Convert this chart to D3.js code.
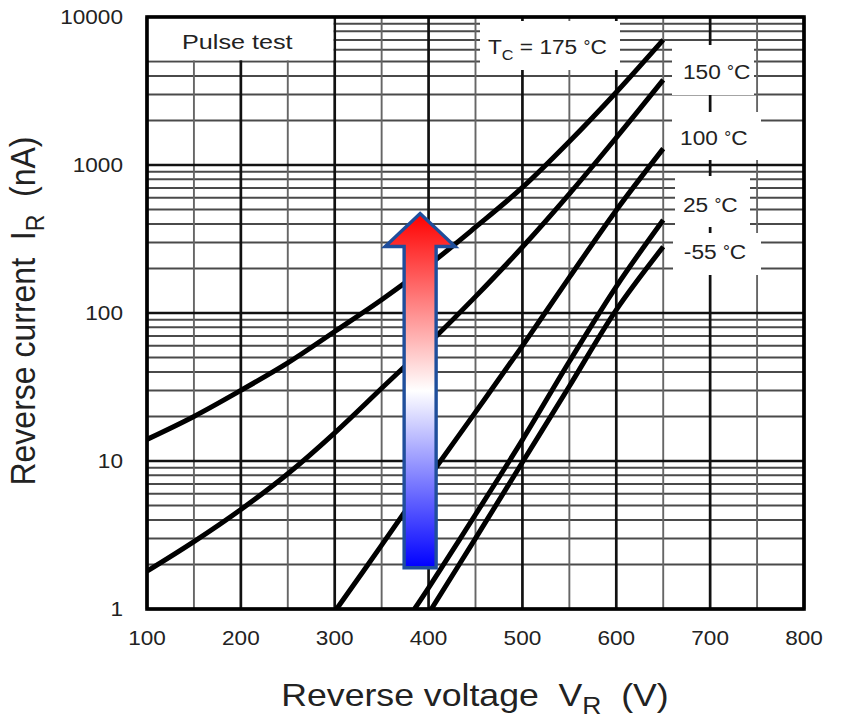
<!DOCTYPE html>
<html>
<head>
<meta charset="utf-8">
<script src="https://cdn.jsdelivr.net/npm/d3@7/dist/d3.min.js"></script>
<style>
  body { margin: 0; background: #fff; }
  text { font-family: Arial, "Liberation Sans", sans-serif; fill: #222; }
</style>
</head>
<body>
<div id="chart"></div>
<script>
// ---- data ----
var xTicks = [100, 200, 300, 400, 500, 600, 700, 800];
var yTicks = [1, 10, 100, 1000, 10000];

var v175 = [100, 150, 200, 250, 300, 350, 400, 450, 500, 550, 600, 650];
var i175 = [14, 20, 30, 46, 75, 123, 210, 380, 705, 1440, 3100, 7000];

var v150 = [100, 150, 200, 250, 300, 350, 400, 450, 500, 550, 600, 650];
var i150 = [1.8, 2.85, 4.7, 8.2, 15.5, 31, 62, 129, 279, 638, 1530, 3760];

var v100 = [302, 350, 400, 450, 500, 550, 600, 650];
var i100 = [1, 2.7, 7.7, 21.4, 60, 174, 495, 1290];

var v25 = [385, 400, 450, 500, 550, 600, 650];
var i25 = [1, 1.39, 4.35, 13.9, 47, 151, 425];

var vm55 = [403, 450, 500, 550, 600, 650];
var im55 = [1, 3, 9.8, 32, 105, 280];

// temperature labels: [text, V at text start, nA at baseline]
var labels = [
  ["150", 671, 3830],
  ["100", 668, 1365],
  ["25", 671, 481],
  ["-55", 672, 232]
];

// ---- setup ----
var W = 846, H = 724;
var svg = d3.select("#chart").append("svg")
    .attr("width", W)
    .attr("height", H);

var x = d3.scaleLinear().domain([100, 800]).range([147, 804]);
var y = d3.scaleLog().domain([1, 10000]).range([609, 17]);

var sx = 1.13; // the picture is a little stretched sideways

function put(t, px, py, s) {
  return t.attr("transform", "translate(" + px + "," + py + ") scale(" + (s || sx) + ",1)");
}

// ---- grid ----
var grid = svg.append("g");

// minor horizontal lines 2..9 per decade
var minorY = [];
for (var d = 1; d < 10000; d *= 10) {
  for (var k = 2; k <= 9; k++) minorY.push(d * k);
}
grid.selectAll("line.hmin").data(minorY).enter().append("line")
    .attr("x1", x(100)).attr("x2", x(800))
    .attr("y1", function(d) { return y(d); })
    .attr("y2", function(d) { return y(d); })
    .attr("stroke", "#4a4a4a").attr("stroke-width", 2);

// minor vertical every 50 V
var minorX = d3.range(150, 800, 100);
grid.selectAll("line.vmin").data(minorX).enter().append("line")
    .attr("x1", function(d) { return x(d); })
    .attr("x2", function(d) { return x(d); })
    .attr("y1", y(1)).attr("y2", y(10000))
    .attr("stroke", "#666").attr("stroke-width", 1.9);

grid.selectAll("line.hmaj").data(yTicks).enter().append("line")
    .attr("x1", x(100)).attr("x2", x(800))
    .attr("y1", function(d) { return y(d); })
    .attr("y2", function(d) { return y(d); })
    .attr("stroke", "#111").attr("stroke-width", 2.7);

grid.selectAll("line.vmaj").data(xTicks).enter().append("line")
    .attr("x1", function(d) { return x(d); })
    .attr("x2", function(d) { return x(d); })
    .attr("y1", y(1)).attr("y2", y(10000))
    .attr("stroke", "#111").attr("stroke-width", 2.7);

// white label boxes knocking out the grid
var boxes = svg.append("g").attr("fill", "#fff");
boxes.append("rect")   // Pulse test
    .attr("x", x(100)).attr("y", y(10000))
    .attr("width", x(300) - x(100) - 1.3)
    .attr("height", y(5000) - y(10000) - 1.3);
boxes.append("rect")   // Tc = 175
    .attr("x", 480).attr("y", 21).attr("width", 140).attr("height", 49);
boxes.append("rect").attr("x", 672).attr("y", 45).attr("width", 82).attr("height", 50);
boxes.append("rect").attr("x", 672).attr("y", 112).attr("width", 89).attr("height", 48);
boxes.append("rect").attr("x", 675).attr("y", 176).attr("width", 75).attr("height", 51);
boxes.append("rect").attr("x", 673).attr("y", 233).attr("width", 88).attr("height", 42);

// ---- curves ----
var line = d3.line()
    .x(function(d) { return x(d[0]); })
    .y(function(d) { return y(d[1]); })
    .curve(d3.curveCatmullRom.alpha(0.5));

function zip(v, i) { return v.map(function(d, j) { return [d, i[j]]; }); }

var series = [zip(v175, i175), zip(v150, i150), zip(v100, i100), zip(v25, i25), zip(vm55, im55)];

svg.append("clipPath").attr("id", "plot")
  .append("rect").attr("x", x(100)).attr("y", y(10000))
    .attr("width", x(800) - x(100)).attr("height", y(1) - y(10000));

svg.append("g").attr("clip-path", "url(#plot)")
  .selectAll("path").data(series).enter().append("path")
    .attr("d", line)
    .attr("fill", "none")
    .attr("stroke", "#000")
    .attr("stroke-width", 5);

// ---- plot frame ----
svg.append("rect")
    .attr("x", x(100)).attr("y", y(10000))
    .attr("width", x(800) - x(100)).attr("height", y(1) - y(10000))
    .attr("fill", "none").attr("stroke", "#000").attr("stroke-width", 3.6);

// ---- tick labels ----
svg.selectAll("text.xt").data(xTicks).enter().append("text")
    .attr("text-anchor", "middle")
    .style("font-size", "20px")
    .text(function(d) { return d; })
    .each(function(d) { put(d3.select(this), x(d), 645); });

svg.selectAll("text.yt").data(yTicks).enter().append("text")
    .attr("text-anchor", "end")
    .style("font-size", "20px")
    .text(function(d) { return d; })
    .each(function(d) { put(d3.select(this), 123, y(d) + 7); });

// ---- annotations ----
put(svg.append("text").style("font-size", "21px").text("Pulse test"), 182, 49, 1.2);

var tc = put(svg.append("text").style("font-size", "21px").style("white-space", "pre"), 488, 54, 1.08);
tc.append("tspan").text("T");
tc.append("tspan").attr("dy", 6).style("font-size", "15px").text("C");
tc.append("tspan").attr("dy", -6).text(" = 175 ");
tc.append("tspan").attr("dy", -2).style("font-size", "16px").text("°");
tc.append("tspan").attr("dy", 2).text("C");

labels.forEach(function(l) {
  var t = put(svg.append("text").style("font-size", "21px").style("white-space", "pre"), x(l[1]), y(l[2]), 1.08);
  t.append("tspan").text(l[0] + " ");
  t.append("tspan").attr("dy", -2).style("font-size", "16px").text("°");
  t.append("tspan").attr("dy", 2).text("C");
});

// ---- axis titles ----
var xt = put(svg.append("text").attr("text-anchor", "middle").style("font-size", "31px").style("white-space", "pre"), 475, 706, 1.15);
xt.append("tspan").text("Reverse voltage  V");
xt.append("tspan").attr("dy", 8).style("font-size", "23px").text("R");
xt.append("tspan").attr("dy", -8).text("  (V)");

var yt = svg.append("text").attr("text-anchor", "middle").style("font-size", "32px").style("white-space", "pre")
    .attr("transform", "translate(35,311) rotate(-90) scale(1,1.1)");
yt.append("tspan").text("Reverse current  I");
yt.append("tspan").attr("dy", 8).style("font-size", "23px").text("R");
yt.append("tspan").attr("dy", -8).text("  (nA)");

// ---- temperature arrow ----
var grad = svg.append("defs").append("linearGradient")
    .attr("id", "heat").attr("x1", 0).attr("y1", 0).attr("x2", 0).attr("y2", 1);
grad.append("stop").attr("offset", "0%").attr("stop-color", "#ff0000");
grad.append("stop").attr("offset", "50%").attr("stop-color", "#ffffff");
grad.append("stop").attr("offset", "100%").attr("stop-color", "#0000ff");

var ax = x(391), aBot = y(1.9), aTop = y(470);
var sw = 16, hw = 35, hh = 33;
var pts = [
  [ax - sw, aBot], [ax - sw, aTop + hh], [ax - hw, aTop + hh], [ax, aTop],
  [ax + hw, aTop + hh], [ax + sw, aTop + hh], [ax + sw, aBot]
];
svg.append("path")
    .attr("d", "M" + pts.join("L") + "Z")
    .attr("fill", "url(#heat)")
    .attr("stroke", "#1f4e9c")
    .attr("stroke-width", 3.4)
    .attr("stroke-linejoin", "miter");
</script>
</body>
</html>
